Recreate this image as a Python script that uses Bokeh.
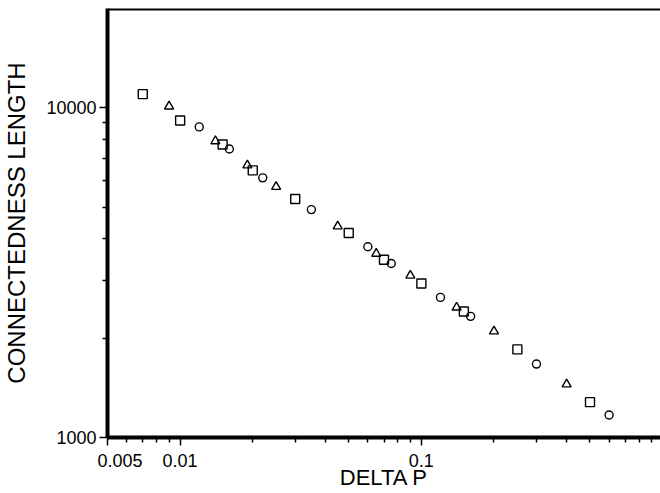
from bokeh.plotting import figure
from bokeh.models import FixedTicker, Span, Range1d
from bokeh.embed import file_html
from bokeh.resources import INLINE

# data
sq_x = [0.007, 0.01, 0.015, 0.02, 0.03, 0.05, 0.07, 0.1, 0.15, 0.25, 0.5]
sq_y = [11000, 9150, 7740, 6460, 5290, 4170, 3460, 2930, 2410, 1850, 1280]
tr_x = [0.009, 0.014, 0.019, 0.025, 0.045, 0.065, 0.09, 0.14, 0.2, 0.4]
tr_y = [10100, 7920, 6690, 5760, 4370, 3610, 3100, 2480, 2100, 1450]
ci_x = [0.012, 0.016, 0.022, 0.035, 0.06, 0.075, 0.12, 0.16, 0.3, 0.6]
ci_y = [8750, 7500, 6130, 4910, 3790, 3370, 2660, 2330, 1670, 1170]

x_major = [0.005, 0.01, 0.1]
x_labels = ["\u2007\u2007\u00a00.005", "0.01", "0.1"]
x_minor = [0.006, 0.007, 0.008, 0.009,
           0.02, 0.03, 0.04, 0.05, 0.06, 0.07, 0.08, 0.09,
           0.2, 0.3, 0.4, 0.5, 0.6, 0.7, 0.8, 0.9]
y_major = [1000, 10000]
y_labels = ["1000", "10000"]
y_minor = [2000, 3000, 4000, 5000, 6000, 7000, 8000, 9000]

FONT = "Liberation Sans"

p = figure(width=660, height=493, x_axis_type="log", y_axis_type="log",
           x_range=Range1d(0.005, 0.98), y_range=Range1d(1000, 20000),
           output_backend="svg", toolbar_location=None,
           min_border_left=106, min_border_right=0, min_border_top=8,
           min_border_bottom=56)
p.grid.visible = False
p.outline_line_color = None
p.background_fill_color = "white"
p.border_fill_color = "white"

p.xaxis.ticker = FixedTicker(ticks=x_major, minor_ticks=x_minor)
p.yaxis.ticker = FixedTicker(ticks=y_major, minor_ticks=y_minor)
p.xaxis.major_label_overrides = {v: s for v, s in zip(x_major, x_labels)}
p.yaxis.major_label_overrides = {v: s for v, s in zip(y_major, y_labels)}

for ax in (p.xaxis, p.yaxis):
    ax.axis_line_width = 4
    ax.axis_line_color = "black"
    ax.major_tick_out = 8
    ax.major_tick_in = 0
    ax.minor_tick_out = 5
    ax.minor_tick_in = 0
    ax.major_tick_line_width = 1.5
    ax.minor_tick_line_width = 1.5
    ax.major_tick_line_color = "black"
    ax.minor_tick_line_color = "black"
    ax.major_label_text_font = FONT
    ax.major_label_text_font_size = "18px"
    ax.major_label_text_color = "black"
    ax.axis_label_text_font = FONT
    ax.axis_label_text_font_style = "normal"
    ax.axis_label_text_color = "black"

p.xaxis.major_label_standoff = 5
p.yaxis.major_label_standoff = 3
p.xaxis.axis_label = "DELTA P"
p.xaxis.axis_label_text_font_size = "22px"
p.xaxis.axis_label_standoff = -9
p.yaxis.axis_label = "CONNECTEDNESS LENGTH"
p.yaxis.axis_label_text_font_size = "24px"
p.yaxis.axis_label_standoff = 13

p.add_layout(Span(location=20000, dimension="width", line_width=4, line_color="black"))

p.scatter(sq_x, sq_y, marker="square", size=9, fill_color=None, line_color="black", line_width=1.4)
p.scatter(tr_x, tr_y, marker="triangle", size=9, fill_color=None, line_color="black", line_width=1.4)
p.scatter(ci_x, ci_y, marker="circle", size=8, fill_color=None, line_color="black", line_width=1.4)

open("out.html", "w").write(file_html(p, INLINE))
